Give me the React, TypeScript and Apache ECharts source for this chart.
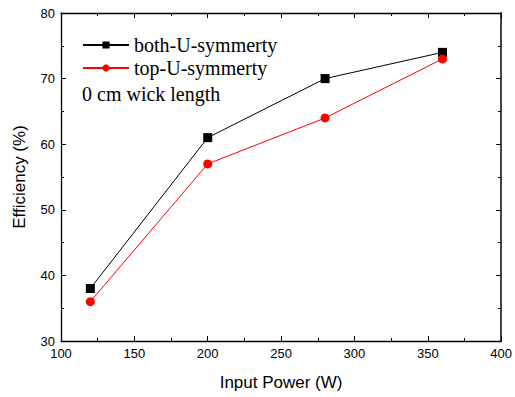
import React, { useEffect, useRef } from "react";
import * as echarts from "echarts";

const inputPower = [120, 200, 280, 360];
const bothU = [38, 61, 70, 74];
const topU = [36, 57, 64, 73];
const seriesNames = ["both-U-symmerty", "top-U-symmerty"];
const annotation = "0 cm wick length";

export default function App() {
  const ref = useRef<HTMLDivElement>(null);
  useEffect(() => {
    const chart = echarts.init(ref.current!, null, { renderer: "svg" });
    const axisLine = { show: true, lineStyle: { color: "#000", width: 1.3 } };
    const tick = { show: true, inside: true, length: 5, lineStyle: { color: "#000" } };
    const minor = { show: true, splitNumber: 2, length: 3, lineStyle: { color: "#000" } };
    const label = { color: "#000", fontFamily: "Liberation Sans, Arial", fontSize: 13 };
    chart.setOption({
      animation: false,
      backgroundColor: "#fff",
      grid: { left: 61, right: 10, top: 13, bottom: 56 },
      legend: {
        data: seriesNames,
        orient: "vertical",
        left: 82,
        top: 35,
        padding: 0,
        itemWidth: 46,
        itemHeight: 9,
        itemGap: 3,
        textStyle: { fontFamily: "Liberation Serif, Times New Roman", fontSize: 20, lineHeight: 20, color: "#000" },
      },
      graphic: [
        {
          type: "text",
          left: 82,
          top: 84,
          style: { text: annotation, font: "20px 'Liberation Serif', 'Times New Roman'", fill: "#000" },
        },
      ],
      xAxis: [
        {
          type: "value",
          min: 100,
          max: 400,
          interval: 50,
          name: "Input Power (W)",
          nameLocation: "middle",
          nameGap: 33,
          nameTextStyle: { fontFamily: "Liberation Sans, Arial", fontSize: 17, color: "#000" },
          axisLine,
          axisTick: tick,
          minorTick: minor,
          axisLabel: { ...label, margin: 6 },
          splitLine: { show: false },
        },
        {
          type: "value",
          position: "top",
          min: 100,
          max: 400,
          interval: 50,
          axisLine,
          axisTick: tick,
          minorTick: minor,
          axisLabel: { show: false },
          splitLine: { show: false },
        },
      ],
      yAxis: [
        {
          type: "value",
          min: 30,
          max: 80,
          interval: 10,
          name: "Efficiency (%)",
          nameLocation: "middle",
          nameGap: 33,
          nameTextStyle: { fontFamily: "Liberation Sans, Arial", fontSize: 17, color: "#000" },
          axisLine,
          axisTick: tick,
          minorTick: minor,
          axisLabel: { ...label, margin: 6 },
          splitLine: { show: false },
        },
        {
          type: "value",
          position: "right",
          min: 30,
          max: 80,
          interval: 10,
          axisLine: { show: true, lineStyle: { color: "#444", width: 2 } },
          axisTick: tick,
          minorTick: minor,
          axisLabel: { show: false },
          splitLine: { show: false },
        },
      ],
      series: [
        {
          name: seriesNames[0],
          type: "line",
          data: inputPower.map((x, i) => [x, bothU[i]]),
          symbol: "rect",
          symbolSize: 9,
          itemStyle: { color: "#000" },
          lineStyle: { color: "#000", width: 1 },
        },
        {
          name: seriesNames[1],
          type: "line",
          data: inputPower.map((x, i) => [x, topU[i]]),
          symbol: "circle",
          symbolSize: 9,
          itemStyle: { color: "#ff0000" },
          lineStyle: { color: "#ff0000", width: 1 },
        },
      ],
    });
    return () => chart.dispose();
  }, []);
  return <div ref={ref} style={{ width: 515, height: 397, position: "absolute", left: 0, top: 0 }} />;
}
